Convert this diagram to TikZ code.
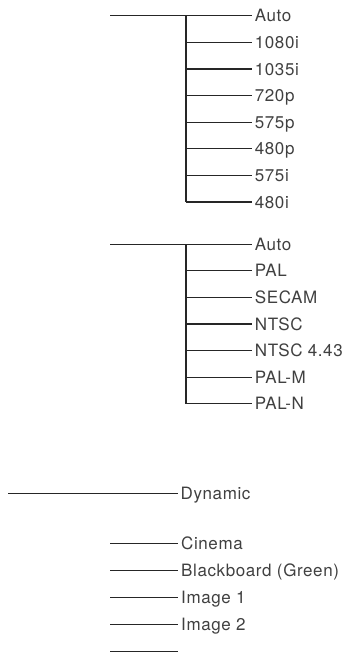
\documentclass[tikz,border=0pt]{standalone}
\usepackage{fontspec}
\setmainfont{TeX Gyre Heros}[LetterSpace=3.5]
\begin{document}
\begin{tikzpicture}[x=1pt,y=-1pt,
  wire/.style={line width=1.2pt,black!85},
  lbl/.style={anchor=base west,inner xsep=3pt,inner ysep=0pt,font=\fontsize{17}{20}\selectfont,text=black!75}]
\useasboundingbox (0,0) rectangle (349,656);
% group 1
\def\gA{15.7}
\def\dA{26.6}
\coordinate (g1s) at (110,\gA);
\coordinate (g1v) at (186,\gA);
\foreach \t [count=\i from 0] in {Auto,1080i,1035i,720p,575p,480p,575i,480i}{
  \pgfmathsetmacro\yy{\gA+\i*\dA}
  \node[lbl] (a\i) at (251.7,\yy+6.1) {\t};
  \coordinate (b\i) at (186,\yy);
}
\draw[wire] (g1s) -- (g1s -| a0.west);
\foreach \i in {1,...,7}{\draw[wire] (b\i) -- (b\i -| a\i.west);}
\draw[wire] (g1v) -- (b7);
% group 2
\def\gB{244.1}
\coordinate (g2s) at (110,\gB);
\coordinate (g2v) at (186,\gB);
\foreach \t [count=\i from 0] in {Auto,PAL,SECAM,NTSC,NTSC 4.43,PAL-M,PAL-N}{
  \pgfmathsetmacro\yy{\gB+\i*\dA}
  \node[lbl] (p\i) at (251.7,\yy+6.1) {\t};
  \coordinate (q\i) at (186,\yy);
}
\draw[wire] (g2s) -- (g2s -| p0.west);
\foreach \i in {1,...,6}{\draw[wire] (q\i) -- (q\i -| p\i.west);}
\draw[wire] (g2v) -- (q6);
% group 3
\coordinate (dyn0) at (8,493.3);
\node[lbl] (dyn) at (177.5,493.3+6.1) {Dynamic};
\draw[wire] (dyn0) -- (dyn0 -| dyn.west);
\foreach \t [count=\i from 0] in {Cinema,Blackboard (Green),Image 1,Image 2}{
  \pgfmathsetmacro\yy{543.3+\i*27.1}
  \node[lbl] (m\i) at (178,\yy+6.1) {\t};
  \coordinate (n\i) at (110,\yy);
  \draw[wire] (n\i) -- (n\i -| m\i.west);
}
\coordinate (n4) at (110,651.7);
\coordinate (e4) at (178,651.7);
\draw[wire] (n4) -- (e4);
\end{tikzpicture}
\end{document}
